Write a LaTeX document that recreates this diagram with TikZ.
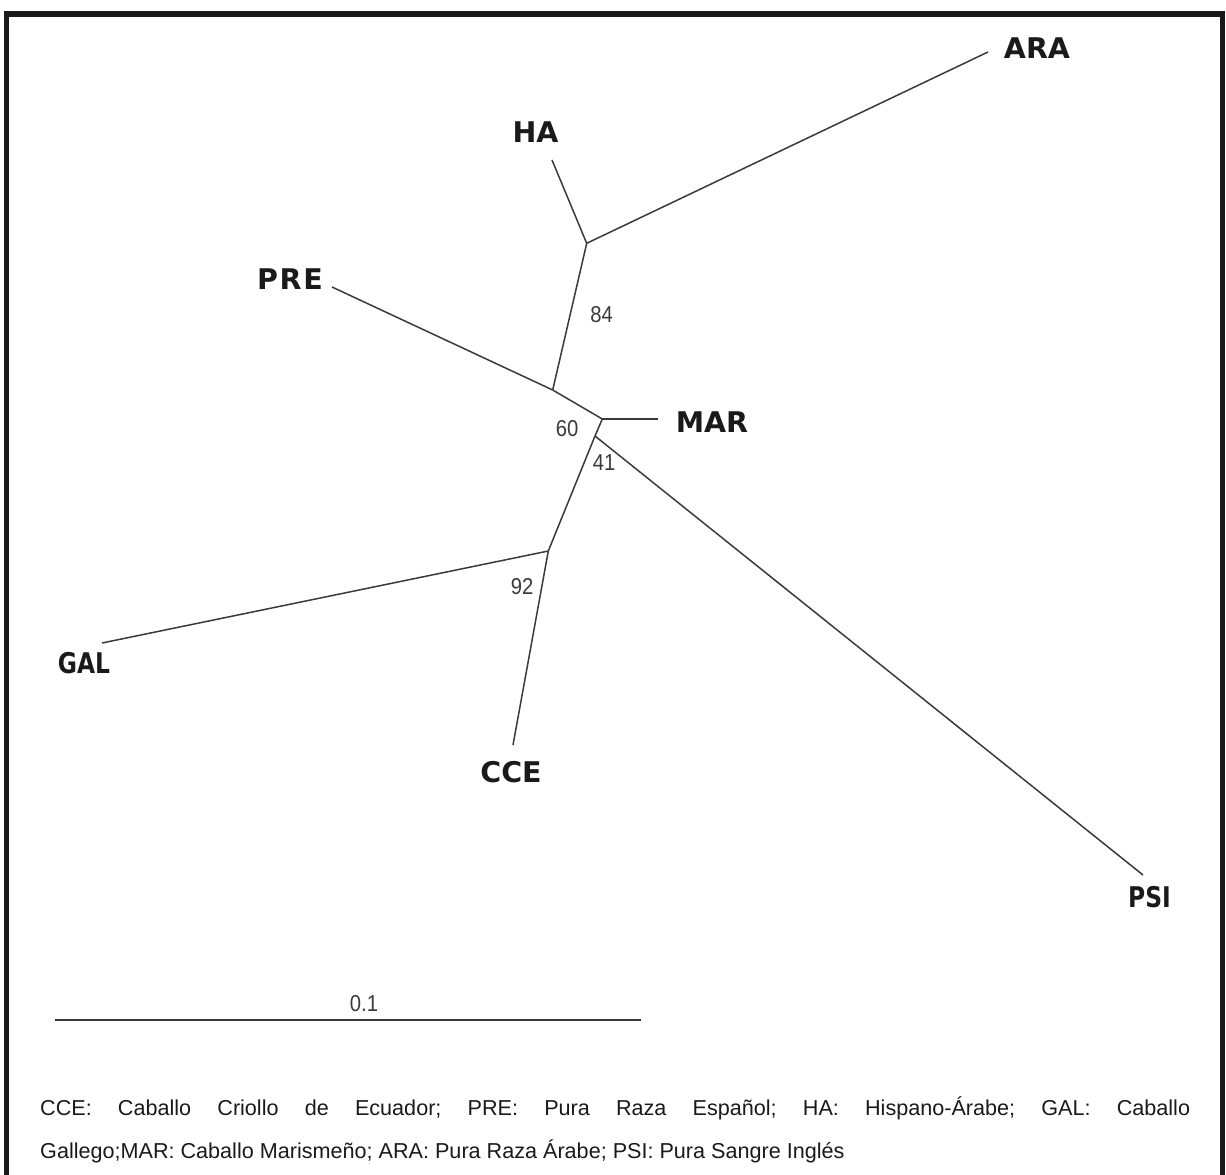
\documentclass[tikz,border=0pt]{standalone}
\usepackage{fontspec}
\setmainfont{Liberation Sans}
\newfontfamily\lblfont{DejaVu Sans}
\newfontfamily\prefont{DejaVu Sans}[LetterSpace=6]
\definecolor{branch}{HTML}{3A3A3A}
\definecolor{ink}{HTML}{1A1A1A}
\tikzset{
  br/.style={draw=branch, line width=1.5pt},
  taxon/.style={inner sep=0pt, text=ink, font=\lblfont\bfseries\fontsize{28.5}{30}\selectfont},
  taxonsm/.style={taxon, xscale=0.82},
  boot/.style={inner sep=0pt, text=branch, font=\fontsize{23}{24}\selectfont, xscale=0.88},
  foot/.style={inner sep=0pt, text=ink, font=\fontsize{21.6}{24}\selectfont, anchor=base west}
}
\begin{document}
\frenchspacing
\begin{tikzpicture}[x=1pt,y=-1pt]
\useasboundingbox (0,0) rectangle (1226,1175);
% frame (no bottom edge)
\draw[line width=5.5pt, draw=ink] (6.5,1180) -- (6.5,14) -- (1222.5,14) -- (1222.5,1180);
% internal nodes
\coordinate (n1) at (586.7,243.3);
\coordinate (n2) at (552.7,390);
\coordinate (n3) at (602.3,419);
\coordinate (n4) at (595,436);
\coordinate (n5) at (548.3,551);
% leaf ends
\coordinate (eHA) at (552,160);
\coordinate (eARA) at (988,52);
\coordinate (ePRE) at (332,287);
\coordinate (eMAR) at (658,419);
\coordinate (eGAL) at (102,643);
\coordinate (eCCE) at (513,745);
\coordinate (ePSI) at (1143,875);
% branches
\draw[br] (eHA) -- (n1);
\draw[br] (n1) -- (eARA);
\draw[br] (n1) -- (n2);
\draw[br] (ePRE) -- (n2);
\draw[br] (n2) -- (n3);
\draw[br] (n3) -- (eMAR);
\draw[br] (n3) -- (n4);
\draw[br] (n4) -- (ePSI);
\draw[br] (n4) -- (n5);
\draw[br] (n5) -- (eGAL);
\draw[br] (n5) -- (eCCE);
% taxa
\node[taxon] (ARA) at (1037,48) {ARA};
\node[taxon] (HA) at (535.5,132.5) {HA};
\node[taxon, font=\prefont\bfseries\fontsize{28.5}{30}\selectfont] (PRE) at (290,279) {PRE};
\node[taxon] (MAR) at (712,422) {MAR};
\node[taxonsm] (GAL) at (84,663) {GAL};
\node[taxon] (CCE) at (511,772) {CCE};
\node[taxonsm] (PSI) at (1149.5,897) {PSI};
% bootstrap values
\node[boot] (b84) at (601.5,314.5) {84};
\node[boot] (b60) at (567,428.5) {60};
\node[boot] (b41) at (604,463) {41};
\node[boot] (b92) at (522,586.5) {92};
% scale bar
\coordinate (s1) at (55,1020);
\coordinate (s2) at (641,1020);
\draw[br] (s1) -- (s2);
\node[boot] (sl) at (364,1004) {0.1};
% footer
\node[foot] (f1) at (40,1115) {\makebox[1150pt][s]{CCE: Caballo Criollo de Ecuador; PRE: Pura Raza Español; HA: Hispano-Árabe; GAL: Caballo}};
\node[foot] (f2) at (40,1158) {Gallego;MAR: Caballo Marismeño; ARA: Pura Raza Árabe; PSI: Pura Sangre Inglés};
\end{tikzpicture}
\end{document}
